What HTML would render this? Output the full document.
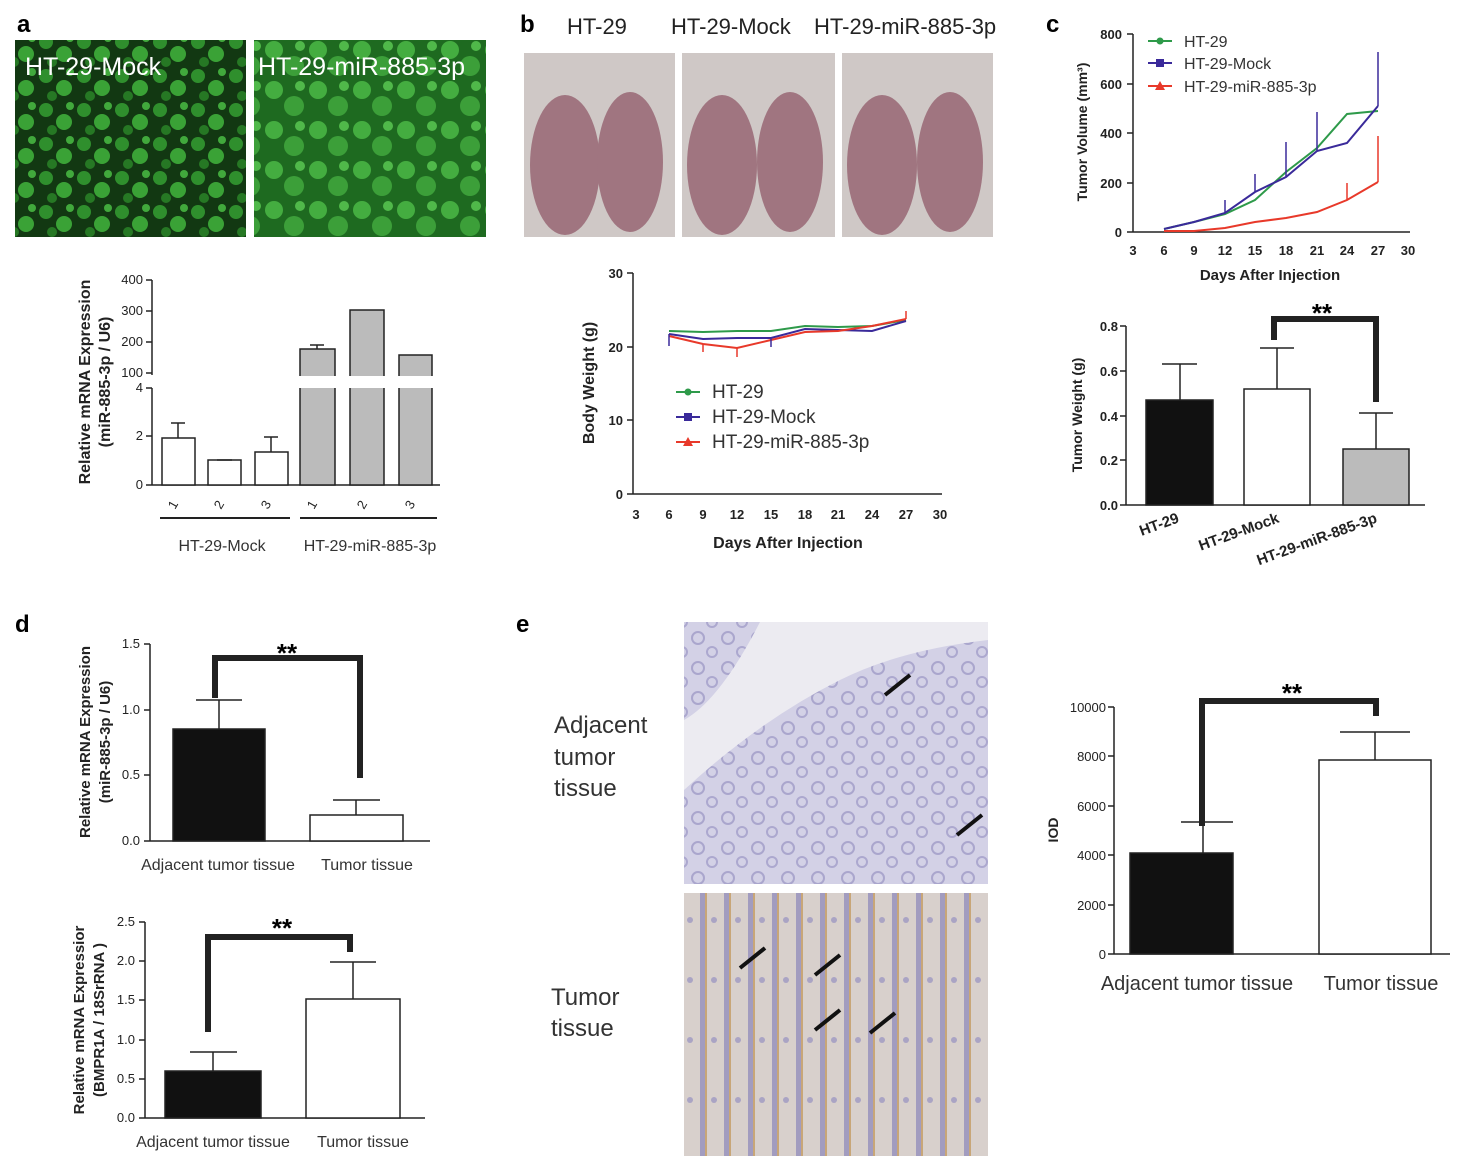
<!DOCTYPE html>
<html><head><meta charset="utf-8"><style>
html,body{margin:0;padding:0;background:#fff;}
svg{display:block;font-family:"Liberation Sans",Arial,sans-serif;}
.t{font-size:13px;fill:#222}
.b{font-weight:bold}
</style></head><body>
<svg width="1474" height="1166" viewBox="0 0 1474 1166" xmlns="http://www.w3.org/2000/svg">
<defs>
<pattern id="g1" width="38" height="34" patternUnits="userSpaceOnUse">
<rect width="38" height="34" fill="#123812"/>
<circle cx="8" cy="8" r="7" fill="#2f8f2d"/><circle cx="26" cy="20" r="8" fill="#3aa236"/><circle cx="14" cy="28" r="5" fill="#267824"/><circle cx="32" cy="4" r="4" fill="#41a93c"/>
</pattern>
<pattern id="g2" width="44" height="40" patternUnits="userSpaceOnUse">
<rect width="44" height="40" fill="#1e6a20"/>
<circle cx="10" cy="10" r="9" fill="#44ad40"/><circle cx="30" cy="26" r="10" fill="#3c9f39"/><circle cx="36" cy="6" r="5" fill="#50b94a"/>
</pattern>
<pattern id="h1" width="30" height="30" patternUnits="userSpaceOnUse">
<rect width="30" height="30" fill="#d3d1e6"/><circle cx="8" cy="8" r="6" fill="none" stroke="#aaa6cd" stroke-width="2"/><circle cx="22" cy="22" r="5" fill="none" stroke="#aca8cf" stroke-width="2"/>
</pattern>
<pattern id="h2" width="24" height="60" patternUnits="userSpaceOnUse">
<rect width="24" height="60" fill="#d8d0cc"/><rect x="4" width="5" height="60" fill="#a29cbf"/><rect x="9" width="2" height="60" fill="#c8a678"/><circle cx="18" cy="20" r="3" fill="#aaa4c4"/>
</pattern>
</defs>
<rect width="1474" height="1166" fill="#fff"/>

<!-- panel a -->
<text x="17" y="32" font-size="24" class="b">a</text>
<rect x="15" y="40" width="231" height="197" fill="url(#g1)"/>
<rect x="254" y="40" width="232" height="197" fill="url(#g2)"/>
<text x="25" y="75" font-size="25" fill="#fff">HT-29-Mock</text>
<text x="258" y="75" font-size="25" fill="#fff">HT-29-miR-885-3p</text>

<g stroke="#222" stroke-width="1.5" fill="none">
<line x1="152" y1="280" x2="152" y2="375"/><line x1="152" y1="388" x2="152" y2="485"/>
<line x1="152" y1="485" x2="440" y2="485"/>
<line x1="146" y1="280" x2="152" y2="280"/><line x1="146" y1="311" x2="152" y2="311"/><line x1="146" y1="342" x2="152" y2="342"/><line x1="146" y1="373" x2="152" y2="373"/>
<line x1="146" y1="388" x2="152" y2="388"/><line x1="146" y1="436" x2="152" y2="436"/><line x1="146" y1="485" x2="152" y2="485"/>
<rect x="162" y="438" width="33" height="47" fill="#fff"/><line x1="178" y1="438" x2="178" y2="423"/><line x1="171" y1="423" x2="185" y2="423"/>
<rect x="208" y="460" width="33" height="25" fill="#fff"/><line x1="217" y1="460" x2="232" y2="460"/>
<rect x="255" y="452" width="33" height="33" fill="#fff"/><line x1="271" y1="452" x2="271" y2="437"/><line x1="264" y1="437" x2="278" y2="437"/>
<rect x="300" y="349" width="35" height="136" fill="#bbb"/><line x1="317" y1="349" x2="317" y2="345"/><line x1="310" y1="345" x2="324" y2="345"/>
<rect x="350" y="310" width="34" height="175" fill="#bbb"/>
<rect x="399" y="355" width="33" height="130" fill="#bbb"/>
<line x1="160" y1="518" x2="290" y2="518" stroke-width="2"/><line x1="300" y1="518" x2="437" y2="518" stroke-width="2"/>
</g>
<rect x="290" y="376" width="150" height="12" fill="#fff"/>
<g class="t" text-anchor="end" font-size="12"><text x="143" y="284">400</text><text x="143" y="315">300</text><text x="143" y="346">200</text><text x="143" y="377">100</text><text x="143" y="392">4</text><text x="143" y="440">2</text><text x="143" y="489">0</text></g>
<g class="t" font-size="12"><text transform="translate(175,510) rotate(-60)">1</text><text transform="translate(221,510) rotate(-60)">2</text><text transform="translate(268,510) rotate(-60)">3</text><text transform="translate(314,510) rotate(-60)">1</text><text transform="translate(364,510) rotate(-60)">2</text><text transform="translate(412,510) rotate(-60)">3</text></g>
<text x="222" y="551" font-size="16" text-anchor="middle" fill="#333">HT-29-Mock</text>
<text x="370" y="551" font-size="16" text-anchor="middle" fill="#333">HT-29-miR-885-3p</text>
<text transform="translate(90,382) rotate(-90)" font-size="16" class="b" text-anchor="middle" fill="#222">Relative mRNA Expression</text>
<text transform="translate(110,382) rotate(-90)" font-size="16" class="b" text-anchor="middle" fill="#222">(miR-885-3p / U6)</text>

<!-- panel b -->
<text x="520" y="32" font-size="24" class="b">b</text>
<text x="567" y="34" font-size="22" fill="#222">HT-29</text>
<text x="671" y="34" font-size="22" fill="#222">HT-29-Mock</text>
<text x="814" y="34" font-size="22" fill="#222">HT-29-miR-885-3p</text>
<g>
<rect x="524" y="53" width="151" height="184" fill="#cfc8c6"/>
<rect x="682" y="53" width="153" height="184" fill="#cfc8c6"/>
<rect x="842" y="53" width="151" height="184" fill="#cfc8c6"/>
<g fill="#a07580">
<ellipse cx="565" cy="165" rx="35" ry="70"/><ellipse cx="630" cy="162" rx="33" ry="70"/>
<ellipse cx="722" cy="165" rx="35" ry="70"/><ellipse cx="790" cy="162" rx="33" ry="70"/>
<ellipse cx="882" cy="165" rx="35" ry="70"/><ellipse cx="950" cy="162" rx="33" ry="70"/>
</g>
</g>

<g stroke="#222" stroke-width="1.5" fill="none">
<line x1="633" y1="273" x2="633" y2="494"/><line x1="633" y1="494" x2="942" y2="494"/>
<line x1="627" y1="273" x2="633" y2="273"/><line x1="627" y1="347" x2="633" y2="347"/><line x1="627" y1="420" x2="633" y2="420"/><line x1="627" y1="494" x2="633" y2="494"/>
</g>
<g class="t b" text-anchor="end" font-size="13"><text x="623" y="278">30</text><text x="623" y="352">20</text><text x="623" y="425">10</text><text x="623" y="499">0</text></g>
<g class="t b" text-anchor="middle" font-size="14"><text x="636" y="519">3</text><text x="669" y="519">6</text><text x="703" y="519">9</text><text x="737" y="519">12</text><text x="771" y="519">15</text><text x="805" y="519">18</text><text x="838" y="519">21</text><text x="872" y="519">24</text><text x="906" y="519">27</text><text x="940" y="519">30</text></g>
<text x="788" y="548" font-size="16" class="b" text-anchor="middle" fill="#222">Days After Injection</text>
<text transform="translate(594,383) rotate(-90)" font-size="16" class="b" text-anchor="middle" fill="#222">Body Weight (g)</text>
<polyline points="669,331 703,332 737,331 771,331 805,326 838,327 872,326 906,320" fill="none" stroke="#2e9a4a" stroke-width="2"/>
<polyline points="669,334 703,339 737,338 771,338 805,329 838,330 872,331 906,321" fill="none" stroke="#3a2a9a" stroke-width="2"/>
<polyline points="669,336 703,344 737,348 771,340 805,332 838,331 872,326 906,319" fill="none" stroke="#e8392a" stroke-width="2"/>
<g stroke="#e8392a" stroke-width="1.5"><line x1="737" y1="348" x2="737" y2="357"/><line x1="703" y1="344" x2="703" y2="352"/><line x1="906" y1="319" x2="906" y2="311"/></g>
<g stroke="#3a2a9a" stroke-width="1.5"><line x1="669" y1="334" x2="669" y2="346"/><line x1="771" y1="338" x2="771" y2="347"/></g>
<line x1="676" y1="392" x2="700" y2="392" stroke="#2e9a4a" stroke-width="2"/><circle cx="688" cy="392" r="3.5" fill="#2e9a4a"/>
<line x1="676" y1="417" x2="700" y2="417" stroke="#3a2a9a" stroke-width="2"/><rect x="684" y="413" width="8" height="8" fill="#3a2a9a"/>
<line x1="676" y1="442" x2="700" y2="442" stroke="#e8392a" stroke-width="2"/><path d="M688 437 L693 446 L683 446Z" fill="#e8392a"/>
<g font-size="19" fill="#333"><text x="712" y="398">HT-29</text><text x="712" y="423">HT-29-Mock</text><text x="712" y="448">HT-29-miR-885-3p</text></g>

<!-- panel c -->
<text x="1046" y="32" font-size="24" class="b">c</text>
<g stroke="#222" stroke-width="1.5" fill="none">
<line x1="1133" y1="34" x2="1133" y2="232"/><line x1="1133" y1="232" x2="1410" y2="232"/>
<line x1="1127" y1="34" x2="1133" y2="34"/><line x1="1127" y1="84" x2="1133" y2="84"/><line x1="1127" y1="133" x2="1133" y2="133"/><line x1="1127" y1="183" x2="1133" y2="183"/><line x1="1127" y1="232" x2="1133" y2="232"/>
</g>
<g class="t b" text-anchor="end" font-size="13"><text x="1122" y="39">800</text><text x="1122" y="89">600</text><text x="1122" y="138">400</text><text x="1122" y="188">200</text><text x="1122" y="237">0</text></g>
<g class="t b" text-anchor="middle" font-size="13"><text x="1133" y="255">3</text><text x="1164" y="255">6</text><text x="1194" y="255">9</text><text x="1225" y="255">12</text><text x="1255" y="255">15</text><text x="1286" y="255">18</text><text x="1317" y="255">21</text><text x="1347" y="255">24</text><text x="1378" y="255">27</text><text x="1408" y="255">30</text></g>
<text x="1270" y="280" font-size="15" class="b" text-anchor="middle" fill="#222">Days After Injection</text>
<text transform="translate(1087,132) rotate(-90)" font-size="14" class="b" text-anchor="middle" fill="#222">Tumor Volume (mm³)</text>
<polyline points="1164,229 1194,222 1225,214 1255,200 1286,172 1317,148 1347,114 1378,111" fill="none" stroke="#2e9a4a" stroke-width="2"/>
<polyline points="1164,229 1194,222 1225,213 1255,192 1286,177 1317,151 1347,143 1378,106" fill="none" stroke="#3a2a9a" stroke-width="2"/>
<polyline points="1164,231 1194,231 1225,228 1255,222 1286,218 1317,212 1347,200 1378,182" fill="none" stroke="#e8392a" stroke-width="2"/>
<g stroke="#3a2a9a" stroke-width="1.5"><line x1="1225" y1="213" x2="1225" y2="200"/><line x1="1255" y1="192" x2="1255" y2="174"/><line x1="1286" y1="177" x2="1286" y2="142"/><line x1="1317" y1="151" x2="1317" y2="112"/><line x1="1378" y1="106" x2="1378" y2="52"/></g>
<g stroke="#e8392a" stroke-width="1.5"><line x1="1347" y1="200" x2="1347" y2="183"/><line x1="1378" y1="182" x2="1378" y2="136"/></g>
<line x1="1148" y1="41" x2="1172" y2="41" stroke="#2e9a4a" stroke-width="2"/><circle cx="1160" cy="41" r="3.5" fill="#2e9a4a"/>
<line x1="1148" y1="63" x2="1172" y2="63" stroke="#3a2a9a" stroke-width="2"/><rect x="1156" y="59" width="8" height="8" fill="#3a2a9a"/>
<line x1="1148" y1="86" x2="1172" y2="86" stroke="#e8392a" stroke-width="2"/><path d="M1160 81 L1165 90 L1155 90Z" fill="#e8392a"/>
<g font-size="16" fill="#333"><text x="1184" y="47">HT-29</text><text x="1184" y="69">HT-29-Mock</text><text x="1184" y="92">HT-29-miR-885-3p</text></g>

<g stroke="#222" stroke-width="1.5" fill="none">
<line x1="1126" y1="326" x2="1126" y2="505"/><line x1="1126" y1="505" x2="1425" y2="505"/>
<line x1="1120" y1="326" x2="1126" y2="326"/><line x1="1120" y1="371" x2="1126" y2="371"/><line x1="1120" y1="416" x2="1126" y2="416"/><line x1="1120" y1="460" x2="1126" y2="460"/><line x1="1120" y1="505" x2="1126" y2="505"/>
<rect x="1146" y="400" width="67" height="105" fill="#111"/><line x1="1180" y1="400" x2="1180" y2="364"/><line x1="1162" y1="364" x2="1197" y2="364"/>
<rect x="1244" y="389" width="66" height="116" fill="#fff"/><line x1="1277" y1="389" x2="1277" y2="348"/><line x1="1260" y1="348" x2="1294" y2="348"/>
<rect x="1343" y="449" width="66" height="56" fill="#bbb"/><line x1="1376" y1="449" x2="1376" y2="413"/><line x1="1359" y1="413" x2="1393" y2="413"/>
<polyline points="1274,340 1274,319 1376,319 1376,402" stroke-width="6"/>
</g>
<text x="1322" y="322" font-size="26" class="b" text-anchor="middle">**</text>
<g class="t b" text-anchor="end" font-size="13"><text x="1118" y="331">0.8</text><text x="1118" y="376">0.6</text><text x="1118" y="421">0.4</text><text x="1118" y="465">0.2</text><text x="1118" y="510">0.0</text></g>
<g class="b" font-size="15" fill="#222" text-anchor="end"><text transform="translate(1180,522) rotate(-20)">HT-29</text><text transform="translate(1280,522) rotate(-20)">HT-29-Mock</text><text transform="translate(1378,522) rotate(-20)">HT-29-miR-885-3p</text></g>
<text transform="translate(1082,415) rotate(-90)" font-size="14" class="b" text-anchor="middle" fill="#222">Tumor Weight (g)</text>

<!-- panel d -->
<text x="15" y="632" font-size="24" class="b">d</text>
<g stroke="#222" stroke-width="1.5" fill="none">
<line x1="150" y1="644" x2="150" y2="841"/><line x1="150" y1="841" x2="430" y2="841"/>
<line x1="144" y1="644" x2="150" y2="644"/><line x1="144" y1="710" x2="150" y2="710"/><line x1="144" y1="775" x2="150" y2="775"/><line x1="144" y1="841" x2="150" y2="841"/>
<rect x="173" y="729" width="92" height="112" fill="#111"/><line x1="219" y1="729" x2="219" y2="700"/><line x1="196" y1="700" x2="242" y2="700"/>
<rect x="310" y="815" width="93" height="26" fill="#fff"/><line x1="356" y1="815" x2="356" y2="800"/><line x1="333" y1="800" x2="380" y2="800"/>
<polyline points="215,698 215,658 360,658 360,778" stroke-width="6"/>
</g>
<text x="287" y="662" font-size="26" class="b" text-anchor="middle">**</text>
<g class="t" text-anchor="end" font-size="11"><text x="140" y="648">1.5</text><text x="140" y="714">1.0</text><text x="140" y="779">0.5</text><text x="140" y="845">0.0</text></g>
<text x="218" y="870" font-size="16" text-anchor="middle" fill="#333">Adjacent tumor tissue</text>
<text x="367" y="870" font-size="16" text-anchor="middle" fill="#333">Tumor tissue</text>
<text transform="translate(90,742) rotate(-90)" font-size="15" class="b" text-anchor="middle" fill="#222">Relative mRNA Expression</text>
<text transform="translate(110,742) rotate(-90)" font-size="15" class="b" text-anchor="middle" fill="#222">(miR-885-3p / U6)</text>

<g stroke="#222" stroke-width="1.5" fill="none">
<line x1="145" y1="922" x2="145" y2="1118"/><line x1="145" y1="1118" x2="425" y2="1118"/>
<line x1="139" y1="922" x2="145" y2="922"/><line x1="139" y1="961" x2="145" y2="961"/><line x1="139" y1="1000" x2="145" y2="1000"/><line x1="139" y1="1040" x2="145" y2="1040"/><line x1="139" y1="1079" x2="145" y2="1079"/><line x1="139" y1="1118" x2="145" y2="1118"/>
<rect x="165" y="1071" width="96" height="47" fill="#111"/><line x1="213" y1="1071" x2="213" y2="1052"/><line x1="190" y1="1052" x2="237" y2="1052"/>
<rect x="306" y="999" width="94" height="119" fill="#fff"/><line x1="353" y1="999" x2="353" y2="962"/><line x1="330" y1="962" x2="376" y2="962"/>
<polyline points="208,1032 208,937 350,937 350,952" stroke-width="6"/>
</g>
<text x="282" y="937" font-size="26" class="b" text-anchor="middle">**</text>
<g class="t" text-anchor="end" font-size="11"><text x="135" y="926">2.5</text><text x="135" y="965">2.0</text><text x="135" y="1004">1.5</text><text x="135" y="1044">1.0</text><text x="135" y="1083">0.5</text><text x="135" y="1122">0.0</text></g>
<text x="213" y="1147" font-size="16" text-anchor="middle" fill="#333">Adjacent tumor tissue</text>
<text x="363" y="1147" font-size="16" text-anchor="middle" fill="#333">Tumor tissue</text>
<text transform="translate(84,1020) rotate(-90)" font-size="15" class="b" text-anchor="middle" fill="#222">Relative mRNA Expressior</text>
<text transform="translate(104,1020) rotate(-90)" font-size="15" class="b" text-anchor="middle" fill="#222">(BMPR1A / 18SrRNA )</text>

<!-- panel e -->
<text x="516" y="632" font-size="24" class="b">e</text>
<rect x="684" y="622" width="304" height="262" fill="url(#h1)"/>
<path d="M684 790 Q760 720 840 680 Q900 650 988 640 L988 622 L760 622 Q720 700 684 720Z" fill="#ecebf1"/>
<rect x="684" y="893" width="304" height="263" fill="url(#h2)"/>
<g stroke="#111" stroke-width="4" fill="#111">
<line x1="910" y1="675" x2="885" y2="695"/><line x1="982" y1="815" x2="957" y2="835"/>
<line x1="765" y1="948" x2="740" y2="968"/><line x1="840" y1="955" x2="815" y2="975"/><line x1="840" y1="1010" x2="815" y2="1030"/><line x1="895" y1="1013" x2="870" y2="1033"/>
</g>
<g font-size="24" fill="#333"><text x="554" y="733">Adjacent</text><text x="554" y="765">tumor</text><text x="554" y="796">tissue</text><text x="551" y="1005">Tumor</text><text x="551" y="1036">tissue</text></g>

<g stroke="#222" stroke-width="1.5" fill="none">
<line x1="1114" y1="707" x2="1114" y2="954"/><line x1="1114" y1="954" x2="1450" y2="954"/>
<line x1="1108" y1="707" x2="1114" y2="707"/><line x1="1108" y1="756" x2="1114" y2="756"/><line x1="1108" y1="806" x2="1114" y2="806"/><line x1="1108" y1="855" x2="1114" y2="855"/><line x1="1108" y1="905" x2="1114" y2="905"/><line x1="1108" y1="954" x2="1114" y2="954"/>
<rect x="1130" y="853" width="103" height="101" fill="#111"/><line x1="1203" y1="853" x2="1203" y2="822"/><line x1="1181" y1="822" x2="1233" y2="822"/>
<rect x="1319" y="760" width="112" height="194" fill="#fff"/><line x1="1375" y1="760" x2="1375" y2="732"/><line x1="1340" y1="732" x2="1410" y2="732"/>
<polyline points="1202,826 1202,701 1376,701 1376,716" stroke-width="6"/>
</g>
<text x="1292" y="702" font-size="26" class="b" text-anchor="middle">**</text>
<g class="t" text-anchor="end" font-size="14"><text x="1106" y="712">10000</text><text x="1106" y="761">8000</text><text x="1106" y="811">6000</text><text x="1106" y="860">4000</text><text x="1106" y="910">2000</text><text x="1106" y="959">0</text></g>
<text x="1197" y="990" font-size="20" text-anchor="middle" fill="#333">Adjacent tumor tissue</text>
<text x="1381" y="990" font-size="20" text-anchor="middle" fill="#333">Tumor tissue</text>
<text transform="translate(1058,830) rotate(-90)" font-size="14" class="b" text-anchor="middle" fill="#222">IOD</text>
</svg>
</body></html>
